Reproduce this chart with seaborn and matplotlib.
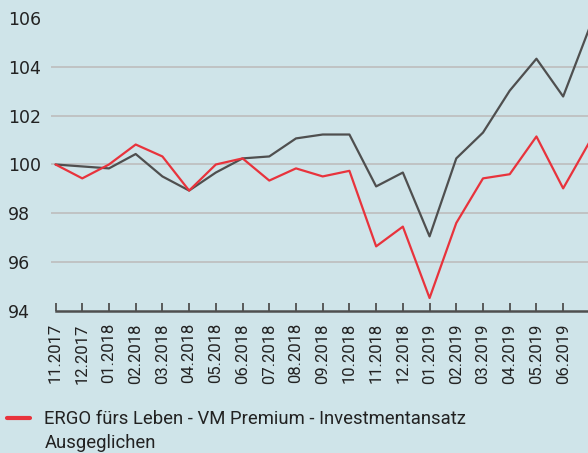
import numpy as np
import pandas as pd
import seaborn as sns
import matplotlib.pyplot as plt
from matplotlib.lines import Line2D

# data
months = ['11.2017', '12.2017', '01.2018', '02.2018', '03.2018', '04.2018',
          '05.2018', '06.2018', '07.2018', '08.2018', '09.2018', '10.2018',
          '11.2018', '12.2018', '01.2019', '02.2019', '03.2019', '04.2019',
          '05.2019', '06.2019', '07.2019']
fund = [100.0, 99.43, 100.0, 100.82, 100.33, 98.93, 100.0, 100.25, 99.34,
        99.84, 99.51, 99.74, 96.64, 97.45, 94.52, 97.6, 99.43, 99.6, 101.15,
        99.02, 100.95]
benchmark = [100.0, 99.92, 99.84, 100.43, 99.51, 98.93, 99.67, 100.25, 100.33,
             101.07, 101.23, 101.23, 99.1, 99.67, 97.05, 100.25, 101.31,
             103.03, 104.34, 102.79, 105.65]
y_ticks = [94, 96, 98, 100, 102, 104, 106]

fund_label = 'ERGO fürs Leben - VM Premium - Investmentansatz'
fund_label_2 = 'Ausgeglichen'
bench_label = 'Vergleich'

bg = '#cfe4e9'
red = '#e8333c'
grey = '#4f4f4f'
txt = '#222222'

df = pd.DataFrame({
    'pos': list(range(len(months))) * 2,
    'value': fund + benchmark,
    'series': [fund_label] * len(fund) + [bench_label] * len(benchmark),
})

sns.set_style('white', {'axes.facecolor': bg, 'figure.facecolor': bg})
plt.rcParams['font.family'] = ['DejaVu Sans']

fig = plt.figure(figsize=(5.88, 4.53), dpi=100)
ax = fig.add_axes([51 / 588, 1 - 310.7 / 453, 1 - 51 / 588, 310.7 / 453])

sns.lineplot(data=df, x='pos', y='value', hue='series',
             hue_order=[bench_label, fund_label],
             palette={fund_label: red, bench_label: grey},
             linewidth=1.6, ax=ax, legend=False)

ax.set_xlim(-0.17, 19.93)
ax.set_ylim(94, 106.75)
ax.set_xlabel('')
ax.set_ylabel('')

# horizontal grid, none at 94 (axis) and 106
ax.set_yticks(y_ticks)
ax.yaxis.grid(True, color='#bdbdbd', linewidth=1.2)
ax.set_axisbelow(True)
ax.yaxis.get_gridlines()[-1].set_visible(False)
ax.yaxis.get_gridlines()[0].set_visible(False)

shown = months[:20]
ax.set_xticks(range(len(shown)))
ax.set_xticklabels(shown, rotation=90, fontsize=12, color=txt, family='Roboto')
ax.tick_params(axis='x', bottom=True, direction='in', length=6, width=1.3,
               color=grey, pad=9)
ax.tick_params(axis='y', left=False, length=0, pad=31, labelsize=12.5,
               labelcolor=txt)
for lab in ax.get_yticklabels():
    lab.set_horizontalalignment('left')

for side in ['top', 'right', 'left']:
    ax.spines[side].set_visible(False)
ax.spines['bottom'].set_color(grey)
ax.spines['bottom'].set_linewidth(1.8)
ax.spines['bottom'].set_bounds(0, 20)

handle = Line2D([], [], color=red, linewidth=3)
leg = fig.legend([handle], [fund_label], loc='center left',
                 bbox_to_anchor=(7 / 588, 1 - 419 / 453), frameon=False,
                 borderpad=0, borderaxespad=0, handlelength=1.25,
                 handletextpad=0.78, labelcolor=txt,
                 prop={'family': 'Roboto', 'size': 13.3})

# second line of the legend label, under the first
fig.canvas.draw()
bb = leg.get_texts()[0].get_window_extent()
fig.text(bb.x0 / 588, (bb.y0 - 24) / 453, fund_label_2, ha='left', va='bottom',
         family='Roboto', fontsize=13.3, color=txt)

fig.savefig('out.png', dpi=100, facecolor=bg)
